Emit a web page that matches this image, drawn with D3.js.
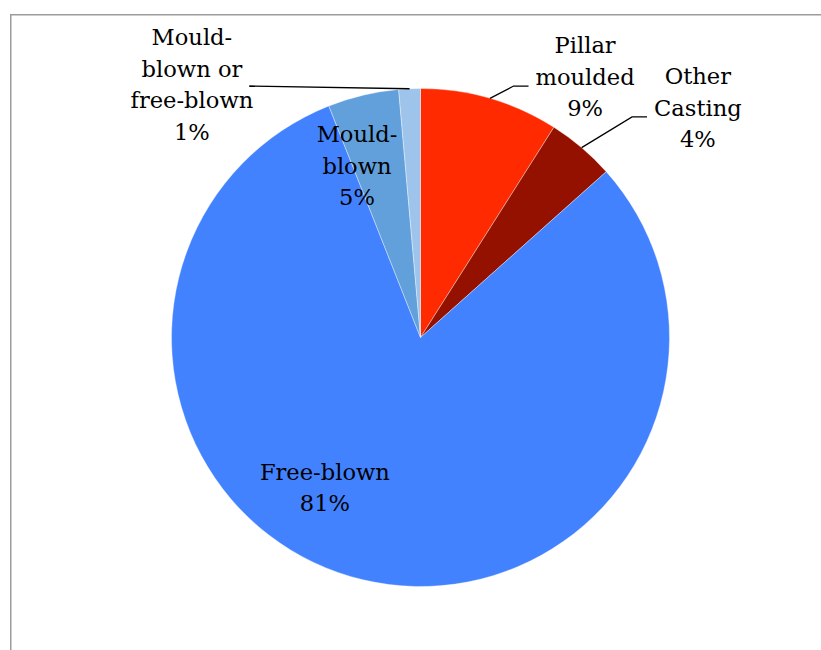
<!DOCTYPE html>
<html>
<head>
<meta charset="utf-8">
<script src="https://cdn.jsdelivr.net/npm/d3@7"></script>
<style>
html,body{margin:0;padding:0;background:#fff;}
svg{display:block;}
text{font-family:"DejaVu Serif",serif;fill:#000;}
</style>
</head>
<body>
<svg id="chart" width="821" height="650"></svg>
<script>
// Data
const categories = ["Pillar moulded", "Other Casting", "Free-blown", "Mould-blown", "Mould-blown or free-blown"];
const labelLines = [["Pillar", "moulded"], ["Other", "Casting"], ["Free-blown"], ["Mould-", "blown"], ["Mould-", "blown or", "free-blown"]];
const shares = [9.0, 4.4, 80.6, 4.6, 1.4];
const colors = ["#FF2A00", "#941100", "#4282FF", "#62A0DC", "#9EC4EC"];

const W = 821, H = 650;
const svg = d3.select("#chart");

// chart frame
svg.append("rect")
  .attr("x", 10.75).attr("y", 14.75)
  .attr("width", W + 20).attr("height", H + 20)
  .attr("fill", "none").attr("stroke", "#9c9c9c").attr("stroke-width", 1.5);

const cx = 420.5, cy = 337.5, R = 249;
const g = svg.append("g").attr("transform", `translate(${cx},${cy})`);

const data = categories.map((c, i) => ({ name: c, value: shares[i], lines: labelLines[i], color: colors[i] }));
const total = d3.sum(shares);
const pie = d3.pie().sort(null).value(d => d.value).startAngle(0).endAngle(2 * Math.PI);
const arcs = pie(data);
const arc = d3.arc().innerRadius(0).outerRadius(R);

g.selectAll("path.slice").data(arcs).join("path")
  .attr("class", "slice")
  .attr("d", arc)
  .attr("fill", d => d.data.color)
  .attr("stroke", "#ffffff")
  .attr("stroke-opacity", 0.6)
  .attr("stroke-width", 0.6);

// label layout (offsets as fractions of radius, relative to pie center)
const layout = [
  { ox: 0.661, oy: -1.046, leader: "elbowLeft" },
  { ox: 1.114, oy: -0.922, leader: "elbowLeft" },
  { ox: -0.384, oy: 0.604, leader: null },
  { ox: -0.255, oy: -0.689, leader: null },
  { ox: -0.918, oy: -1.014, leader: "straightRight" }
];
const fontSize = 22.6;
const lineH = 31.5;

arcs.forEach((a, i) => {
  const L = layout[i];
  const lines = a.data.lines.concat([Math.round(a.data.value / total * 100) + "%"]);
  const bx = L.ox * R, by = L.oy * R;
  const n = lines.length;
  const t = g.append("text")
    .attr("text-anchor", "middle")
    .attr("font-size", fontSize);
  lines.forEach((ln, k) => {
    t.append("tspan")
      .attr("x", bx)
      .attr("y", by + (k - (n - 1) / 2) * lineH)
      .attr("dy", "0.34em")
      .text(ln);
  });
  if (L.leader) {
    const mid = (a.startAngle + a.endAngle) / 2;
    const p0 = [Math.sin(mid) * R, -Math.cos(mid) * R];
    const bb = t.node().getBBox();
    let pts;
    if (L.leader === "elbowLeft") {
      const ey = by + 9;
      const ex = bb.x - 7;
      pts = [p0, [ex - 15, ey], [ex, ey]];
    } else {
      const ey = by + 1;
      const ex = bb.x + bb.width - 4;
      pts = [p0, [ex, ey]];
    }
    g.append("path")
      .attr("d", d3.line()(pts))
      .attr("fill", "none")
      .attr("stroke", "#000")
      .attr("stroke-width", 1.3);
  }
});
</script>
</body>
</html>
